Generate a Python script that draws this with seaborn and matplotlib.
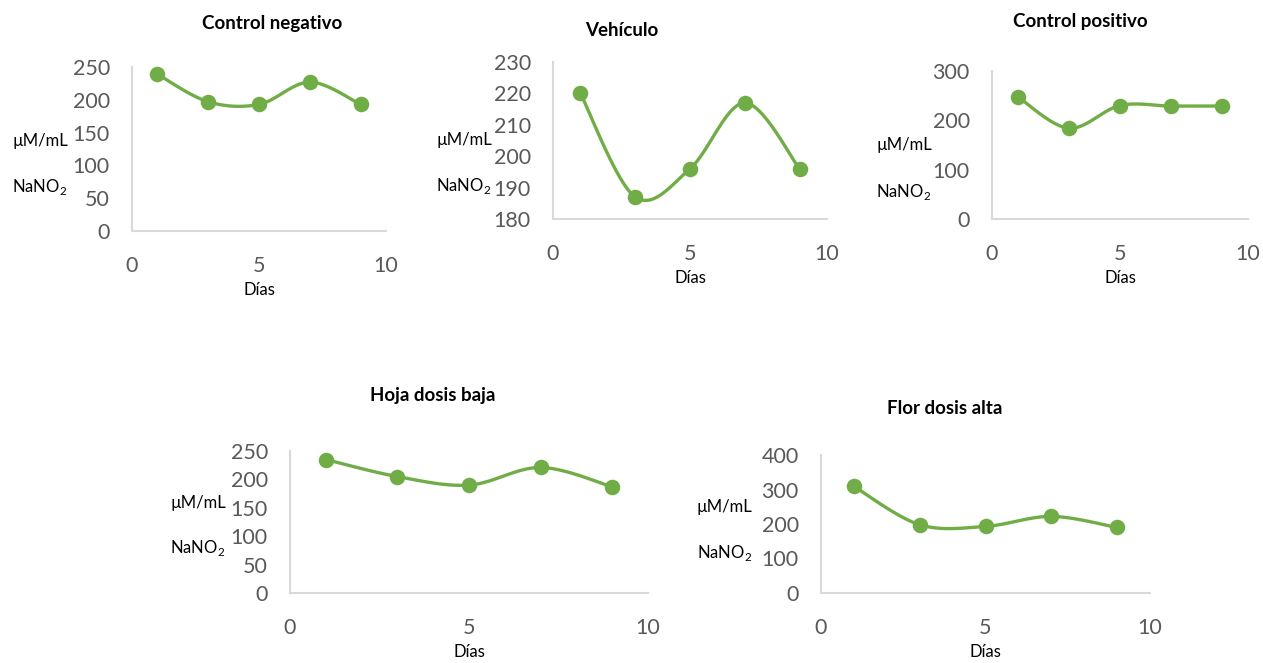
import numpy as np
import pandas as pd
import matplotlib
matplotlib.use('Agg')
import matplotlib.pyplot as plt
import seaborn as sns

# datos
dias = [1, 3, 5, 7, 9]
control_negativo = [239, 197, 193, 227, 193]
vehiculo = [220, 187, 196, 217, 196]
control_positivo = [248, 184, 230, 229, 229]
hoja_dosis_baja = [235, 205, 190, 221, 187]
flor_dosis_alta = [309, 198, 193, 222, 190]

titulos = ['Control negativo', 'Vehículo', 'Control positivo',
           'Hoja dosis baja', 'Flor dosis alta']
series = [control_negativo, vehiculo, control_positivo,
          hoja_dosis_baja, flor_dosis_alta]
y_lims = [(0, 250), (180, 230), (0, 300), (0, 250), (0, 400)]
y_steps = [50, 10, 100, 50, 100]

sns.set_style('white')
plt.rcParams['font.family'] = ['Lato', 'DejaVu Sans']
plt.rcParams['mathtext.fontset'] = 'custom'
plt.rcParams['mathtext.rm'] = 'Lato'

VERDE = '#70AD47'
GRIS_EJE = '#D9D9D9'
GRIS_TXT = '#595959'

W, H = 1263, 663
fig = plt.figure(figsize=(W / 100, H / 100), dpi=100)

# posiciones en pixeles: (izq, der, abajo, arriba)
cajas = [(132, 386, 231, 67), (553, 827, 219, 62), (992, 1248, 219, 71),
         (290, 648, 593, 451), (821, 1150, 593, 455)]
pos_titulo = [(272, 23), (622, 31), (1080, 21), (433, 395), (945, 408)]
pos_ylab = [(12, 141, 187), (436, 140, 186), (876, 145, 192),
            (170, 503, 548), (697, 507, 553)]


def suavizar(x, y, n=30):
    # curva tipo Excel (Catmull-Rom) entre los puntos
    x = np.asarray(x, float)
    y = np.asarray(y, float)
    p = np.column_stack([x, y])
    p = np.vstack([p[0], p, p[-1]])
    out = []
    for i in range(1, len(p) - 2):
        p0, p1, p2, p3 = p[i - 1], p[i], p[i + 1], p[i + 2]
        c1 = p1 + (p2 - p0) / 6
        c2 = p2 - (p3 - p1) / 6
        t = np.linspace(0, 1, n)[:, None]
        b = ((1 - t) ** 3) * p1 + 3 * ((1 - t) ** 2) * t * c1 + \
            3 * (1 - t) * t ** 2 * c2 + t ** 3 * p2
        out.append(b if i == 1 else b[1:])
    out = np.vstack(out)
    return out[:, 0], out[:, 1]


for k in range(5):
    l, r, b, t = cajas[k]
    ax = fig.add_axes([l / W, 1 - b / H, (r - l) / W, (b - t) / H])
    xs, ys = suavizar(dias, series[k])
    curva = pd.DataFrame({'x': xs, 'y': ys})
    sns.lineplot(data=curva, x='x', y='y', ax=ax, color=VERDE, lw=2.4,
                 sort=False, estimator=None)
    sns.scatterplot(x=dias, y=series[k], ax=ax, color=VERDE, s=125,
                    linewidth=0, zorder=3)
    ax.set_xlim(0, 10)
    ax.set_ylim(*y_lims[k])
    ax.set_xticks([0, 5, 10])
    ax.set_yticks(np.arange(y_lims[k][0], y_lims[k][1] + 1, y_steps[k]))
    ax.tick_params(axis='both', length=0, labelsize=15.5, colors=GRIS_TXT)
    ax.tick_params(axis='x', pad=18)
    ax.tick_params(axis='y', pad=16)
    for s in ['top', 'right']:
        ax.spines[s].set_visible(False)
    for s in ['left', 'bottom']:
        ax.spines[s].set_color(GRIS_EJE)
        ax.spines[s].set_linewidth(1.5)
    ax.set_xlabel('Días', fontsize=12, color='black', labelpad=4)
    ax.set_ylabel('')
    for art in ax.collections + ax.lines:
        art.set_clip_on(False)

    tx, ty = pos_titulo[k]
    fig.text(tx / W, 1 - ty / H, titulos[k], ha='center', va='center',
             fontsize=13.5, fontweight='bold', color='black')
    lx, y1, y2 = pos_ylab[k]
    fig.text(lx / W, 1 - y1 / H, 'µM/mL', ha='left', va='center',
             fontsize=12, color='black')
    fig.text(lx / W, 1 - y2 / H, 'NaNO$_\\mathregular{2}$', ha='left',
             va='center', fontsize=12, color='black')

fig.savefig('out.png', dpi=100)
